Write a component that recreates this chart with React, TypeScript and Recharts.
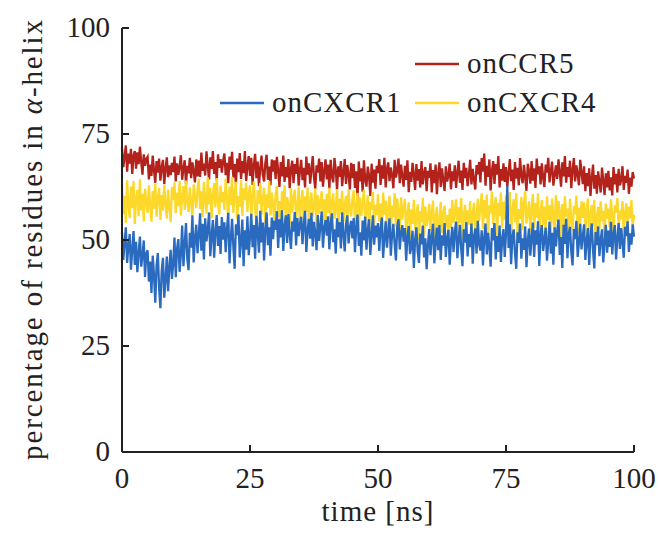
import { LineChart, Line, XAxis, YAxis, Legend } from 'recharts';

// sampling interval of the trajectories, ns
const STEP = 0.25;

// % residues in alpha-helix, one row = 5 ns
const onCCR5 = [
  71.8, 67.2, 69.5, 72.3, 66.1, 70.4, 68.0, 71.5, 65.6, 69.9, 71.0, 66.8, 70.7, 67.9, 72.0, 68.4, 65.4, 70.2, 67.5, 69.1,
  69.6, 64.3, 67.8, 65.1, 69.9, 66.4, 63.5, 68.6, 65.9, 69.2, 64.0, 67.1, 68.9, 63.2, 66.7, 69.5, 64.8, 67.6, 65.3, 68.2,
  66.0, 69.7, 63.8, 68.1, 65.4, 67.3, 70.0, 64.2, 66.9, 68.8, 63.1, 67.5, 65.7, 69.4, 64.6, 68.3, 66.2, 63.6, 69.0, 65.0,
  68.7, 64.9, 70.6, 66.3, 68.0, 65.2, 70.9, 67.4, 64.3, 69.5, 66.8, 71.0, 65.6, 68.4, 64.1, 70.2, 67.0, 69.1, 65.9, 68.6,
  70.4, 65.3, 68.2, 63.4, 69.7, 66.6, 70.8, 64.7, 67.9, 63.1, 69.2, 66.0, 70.5, 64.4, 68.6, 65.8, 71.0, 63.9, 67.4, 69.8,
  65.1, 69.4, 63.0, 67.7, 70.3, 64.6, 68.5, 62.7, 66.9, 69.9, 65.5, 63.8, 68.2, 70.1, 64.2, 67.3, 62.9, 69.0, 66.1, 68.8,
  64.4, 69.6, 66.3, 62.5, 68.4, 65.0, 69.9, 63.7, 67.2, 64.8, 69.1, 62.2, 66.8, 68.7, 63.4, 67.9, 65.6, 69.4, 62.8, 66.5,
  68.9, 64.1, 67.0, 62.4, 69.7, 65.4, 68.1, 63.3, 66.6, 69.8, 64.7, 62.1, 67.6, 65.9, 69.2, 63.8, 68.4, 62.6, 66.2, 69.0,
  64.3, 67.8, 62.0, 68.9, 65.1, 63.6, 69.3, 66.5, 61.8, 67.4, 64.9, 68.6, 62.7, 66.0, 69.1, 63.2, 67.7, 65.5, 61.9, 68.2,
  64.6, 67.9, 62.3, 66.2, 59.7, 68.5, 63.8, 66.9, 61.4, 68.8, 64.1, 62.6, 67.3, 65.2, 60.4, 68.0, 63.5, 66.6, 62.1, 67.5,
  65.8, 69.1, 63.0, 67.6, 64.5, 69.4, 62.4, 66.8, 68.3, 63.9, 67.1, 65.3, 62.2, 68.9, 64.7, 66.4, 69.2, 63.4, 67.8, 65.0,
  62.6, 67.5, 64.2, 68.8, 61.3, 66.1, 63.7, 68.2, 65.4, 61.8, 67.9, 64.0, 66.7, 62.4, 68.6, 63.1, 65.8, 67.2, 61.5, 66.3,
  64.7, 68.1, 61.2, 66.5, 63.4, 67.8, 60.8, 65.6, 68.3, 62.5, 66.9, 64.1, 61.6, 67.4, 63.8, 65.2, 68.0, 62.0, 66.2, 63.9,
  67.6, 62.3, 65.9, 68.7, 63.5, 66.4, 61.8, 68.2, 64.6, 67.0, 62.7, 65.3, 68.9, 63.1, 66.8, 64.2, 61.9, 67.7, 65.5, 68.4,
  63.6, 69.3, 66.1, 70.4, 62.8, 67.5, 64.9, 69.0, 61.7, 66.3, 68.6, 63.2, 67.9, 65.4, 69.8, 62.4, 66.7, 64.0, 68.1, 63.7,
  67.2, 62.5, 65.8, 69.1, 63.9, 66.6, 61.8, 68.4, 64.5, 67.0, 62.9, 69.3, 65.1, 63.4, 67.7, 64.8, 61.6, 68.0, 66.2, 63.3,
  68.6, 64.0, 66.9, 62.3, 69.2, 65.5, 67.4, 63.1, 68.1, 64.7, 62.5, 67.8, 65.9, 69.4, 63.6, 66.2, 68.5, 62.8, 65.3, 67.6,
  64.4, 69.0, 66.1, 62.6, 68.3, 65.0, 69.8, 63.5, 67.2, 64.9, 68.7, 62.2, 66.5, 69.3, 63.8, 67.6, 65.4, 62.9, 68.9, 66.0,
  63.2, 67.4, 61.5, 65.8, 62.7, 66.9, 60.4, 64.6, 67.8, 62.1, 65.3, 60.9, 66.2, 63.7, 61.2, 67.1, 64.0, 60.6, 65.7, 62.4,
  66.3, 61.7, 64.8, 60.5, 67.2, 63.1, 65.6, 61.2, 66.8, 62.9, 64.2, 67.4, 61.8, 65.1, 63.5, 66.6, 60.9, 64.7, 62.6, 66.0,
  64.5,
];

const onCXCR4 = [
  63.2, 56.1, 60.4, 54.0, 64.1, 58.3, 55.2, 62.6, 57.5, 63.9, 53.8, 59.7, 61.8, 55.6, 64.3, 57.0, 60.9, 54.4, 62.1, 58.8,
  56.4, 62.9, 58.1, 54.3, 61.6, 57.4, 63.3, 55.5, 59.9, 62.2, 54.7, 60.6, 56.9, 63.0, 58.6, 55.1, 61.9, 57.8, 54.2, 62.5,
  59.4, 63.6, 56.3, 61.2, 58.0, 63.9, 55.8, 60.5, 62.7, 57.1, 64.0, 59.0, 56.6, 62.4, 58.7, 55.6, 63.1, 60.2, 57.5, 62.0,
  64.4, 57.3, 61.5, 55.4, 63.7, 59.6, 56.2, 64.8, 58.4, 62.3, 55.1, 60.7, 63.4, 57.7, 64.6, 59.1, 56.0, 62.8, 58.9, 61.3,
  57.1, 64.5, 59.8, 55.0, 62.6, 58.2, 64.9, 56.4, 61.0, 63.7, 54.8, 60.3, 57.9, 64.1, 55.7, 62.2, 59.4, 63.5, 56.6, 60.8,
  62.9, 55.3, 60.1, 63.8, 57.2, 54.0, 61.7, 58.6, 63.4, 56.0, 59.5, 62.3, 53.7, 60.8, 57.6, 63.9, 55.8, 61.2, 58.1, 54.6,
  60.7, 62.8, 55.4, 59.2, 53.3, 61.5, 57.0, 62.9, 54.7, 60.1, 58.3, 53.6, 62.2, 56.5, 59.8, 61.9, 55.1, 57.7, 62.6, 54.2,
  58.9, 61.8, 54.1, 60.3, 56.7, 62.4, 52.9, 59.1, 61.2, 55.5, 57.8, 62.1, 53.4, 60.6, 56.2, 58.7, 61.5, 54.6, 59.6, 52.7,
  60.9, 56.4, 62.3, 53.5, 58.8, 61.0, 55.0, 57.6, 62.0, 52.3, 59.7, 56.1, 61.6, 54.3, 58.2, 60.4, 53.0, 61.9, 57.3, 55.6,
  59.4, 61.7, 53.8, 57.9, 61.1, 52.2, 60.0, 55.7, 58.5, 61.8, 54.4, 56.8, 60.6, 51.8, 59.0, 57.1, 61.3, 53.6, 58.3, 55.9,
  60.8, 54.3, 58.6, 51.2, 61.2, 56.0, 59.3, 52.7, 57.5, 60.4, 50.9, 58.1, 55.4, 61.0, 53.1, 59.8, 56.7, 52.0, 60.1, 54.8,
  57.6, 59.7, 51.5, 56.1, 58.9, 50.3, 57.2, 53.8, 59.5, 52.4, 55.7, 58.4, 49.9, 56.8, 54.2, 59.9, 51.0, 57.9, 53.3, 55.0,
  58.5, 52.1, 56.6, 59.3, 50.2, 55.4, 57.8, 49.4, 54.7, 59.0, 51.6, 56.3, 58.1, 53.0, 55.9, 49.8, 57.4, 52.8, 59.4, 54.1,
  56.5, 59.6, 51.3, 57.7, 54.0, 59.9, 50.0, 55.8, 58.3, 52.5, 57.0, 53.6, 59.2, 50.7, 56.2, 58.8, 52.0, 55.3, 59.7, 54.4,
  57.9, 61.0, 52.6, 59.4, 55.1, 60.7, 50.4, 58.2, 56.3, 61.4, 53.7, 57.5, 60.1, 51.2, 58.8, 55.6, 61.2, 52.9, 59.0, 54.8,
  60.5, 53.4, 58.0, 61.3, 51.1, 56.9, 59.6, 54.2, 61.0, 50.5, 57.3, 55.0, 60.2, 52.3, 58.6, 61.5, 53.9, 56.4, 59.1, 51.8,
  57.2, 60.8, 52.8, 58.7, 55.3, 61.0, 49.9, 56.6, 59.4, 53.5, 57.9, 51.4, 60.3, 54.7, 58.2, 50.6, 59.8, 55.9, 52.2, 60.6,
  54.3, 59.2, 56.8, 50.1, 58.5, 53.0, 60.3, 55.5, 57.4, 49.7, 59.7, 54.6, 52.3, 58.0, 56.1, 60.5, 51.5, 57.6, 53.8, 59.1,
  55.2, 58.9, 51.7, 57.3, 59.8, 50.4, 56.0, 58.3, 53.2, 59.5, 49.8, 55.7, 57.8, 52.6, 59.1, 54.4, 56.9, 50.9, 58.6, 55.0,
  57.4, 53.1, 59.6, 55.8, 51.2, 58.2, 56.5, 59.9, 52.7, 57.0, 54.9, 59.2, 50.8, 56.3, 58.7, 53.5, 57.8, 55.1, 59.4, 52.9,
  56.0,
];

const onCXCR1 = [
  51.8, 45.3, 49.2, 53.0, 44.6, 48.5, 51.4, 43.0, 47.8, 52.1, 44.1, 49.6, 42.4, 47.0, 50.8, 43.7, 46.2, 49.9, 41.3, 46.8,
  47.6, 40.2, 44.9, 37.5, 46.3, 41.8, 35.2, 44.0, 46.9, 38.6, 33.9, 42.7, 45.8, 36.4, 40.5, 46.1, 37.9, 43.6, 47.7, 40.8,
  44.3, 50.6, 41.2, 47.9, 50.2, 42.5, 46.6, 53.4, 43.8, 49.1, 54.0, 45.6, 42.9, 51.7, 48.2, 55.8, 44.7, 50.5, 53.6, 46.9,
  51.2, 56.3, 47.5, 53.8, 45.4, 55.1, 49.7, 52.4, 56.5, 46.2, 50.9, 54.7, 45.8, 52.0, 55.9, 48.6, 53.3, 46.7, 55.4, 50.1,
  54.2, 47.1, 52.6, 56.4, 44.5, 50.3, 55.0, 48.4, 43.2, 53.7, 51.1, 56.0, 45.9, 49.6, 54.8, 43.8, 52.3, 47.7, 55.6, 46.4,
  50.8, 56.2, 48.3, 53.5, 45.6, 55.7, 51.9, 47.0, 56.9, 49.4, 54.1, 45.2, 52.7, 56.5, 48.8, 53.0, 46.3, 55.3, 50.2, 54.6,
  52.4, 56.8, 48.1, 54.9, 50.6, 57.0, 47.4, 53.2, 55.8, 49.3, 56.1, 51.5, 47.9, 54.4, 52.0, 56.6, 48.7, 55.2, 50.9, 53.8,
  55.5, 49.0, 53.6, 56.9, 47.2, 52.1, 55.0, 50.3, 56.4, 48.5, 54.3, 51.7, 47.6, 55.9, 49.8, 53.3, 56.7, 48.2, 52.8, 54.7,
  51.0, 55.6, 47.8, 53.9, 56.3, 49.5, 52.5, 46.8, 55.1, 50.7, 54.2, 48.0, 56.5, 51.4, 47.3, 53.7, 55.8, 49.2, 52.9, 54.5,
  50.4, 55.2, 47.1, 53.1, 56.0, 48.6, 51.8, 46.3, 54.6, 49.9, 55.5, 47.7, 52.3, 54.9, 46.5, 51.2, 55.8, 48.9, 53.4, 50.6,
  54.0, 47.4, 52.7, 55.3, 45.8, 50.5, 54.4, 48.2, 52.0, 55.1, 46.3, 51.3, 53.8, 49.0, 45.2, 52.9, 54.9, 47.8, 51.6, 53.5,
  49.6, 52.8, 45.1, 50.9, 53.3, 46.7, 48.4, 52.2, 43.4, 50.1, 53.0, 47.3, 44.6, 51.5, 49.0, 53.4, 45.9, 50.4, 43.1, 48.8,
  52.6, 46.4, 50.7, 53.8, 44.5, 49.2, 52.9, 47.6, 53.5, 45.3, 51.1, 48.7, 54.0, 46.0, 50.3, 52.4, 44.2, 49.8, 53.1, 47.1,
  51.9, 54.3, 45.7, 50.0, 53.6, 47.9, 43.8, 52.5, 49.4, 54.2, 46.1, 51.4, 48.3, 53.9, 44.4, 50.8, 52.7, 46.8, 54.5, 49.0,
  47.5, 52.3, 44.0, 50.6, 53.9, 46.6, 51.7, 48.5, 43.7, 52.8, 49.9, 54.0, 45.4, 51.0, 47.2, 53.4, 44.8, 50.2, 52.6, 46.0,
  51.4, 62.8, 48.1, 53.7, 44.3, 50.9, 52.5, 46.9, 43.2, 51.8, 49.3, 53.9, 45.6, 50.4, 47.7, 53.2, 43.6, 49.8, 52.7, 46.3,
  50.5, 54.1, 46.0, 52.3, 48.9, 54.4, 43.9, 51.2, 53.5, 47.4, 50.0, 52.9, 45.1, 49.6, 54.3, 46.8, 51.7, 44.2, 53.0, 48.5,
  52.1, 54.8, 46.5, 50.7, 43.4, 53.6, 49.1, 55.0, 45.7, 51.5, 53.1, 47.2, 44.0, 52.6, 50.2, 54.5, 46.0, 49.5, 53.8, 47.8,
  51.0, 53.7, 45.3, 49.9, 52.8, 44.1, 50.6, 53.9, 47.5, 43.3, 51.9, 48.8, 53.2, 46.2, 50.1, 52.5, 44.7, 49.4, 53.6, 47.0,
  52.2, 48.4, 54.3, 46.6, 51.3, 53.5, 45.4, 50.5, 54.0, 47.9, 52.8, 49.6, 45.8, 53.1, 50.9, 54.4, 47.2, 51.6, 48.9, 53.7,
  50.8,
];

const xTicks = [0, 25, 50, 75, 100];
const yTicks = [0, 25, 50, 75, 100];

const FONT = '"Liberation Serif", "Times New Roman", serif';
const AXIS = '#222';
const RED = '#b3231c';
const YELLOW = '#fcd82a';
const BLUE = '#2a6bc0';

const data = onCCR5.map((v, i) => ({
  t: i * STEP,
  ccr5: v,
  cxcr4: onCXCR4[i],
  cxcr1: onCXCR1[i],
}));

const textStyle = { fontFamily: FONT, fontSize: 29, fill: '#222' };

function XTick({ x, y, payload }: any) {
  return (
    <g>
      {payload.value !== 0 && (
        <line x1={x} x2={x} y1={y} y2={y - 7} stroke={AXIS} strokeWidth={2} />
      )}
      <text x={x} y={y + 36} textAnchor="middle" style={textStyle}>
        {payload.value}
      </text>
    </g>
  );
}

function YTick({ x, y, payload }: any) {
  return (
    <g>
      {payload.value !== 0 && (
        <line x1={x} x2={x + 7} y1={y} y2={y} stroke={AXIS} strokeWidth={2} />
      )}
      <text x={x - 12} y={y + 9} textAnchor="end" style={textStyle}>
        {payload.value}
      </text>
    </g>
  );
}

function LegendBox() {
  const items = [
    { name: 'onCCR5', color: RED, x: 415, y: 64 },
    { name: 'onCXCR1', color: BLUE, x: 220, y: 103 },
    { name: 'onCXCR4', color: YELLOW, x: 415, y: 103 },
  ];
  return (
    <svg width={659} height={130}>
      {items.map((it) => (
        <g key={it.name}>
          <line x1={it.x} x2={it.x + 44} y1={it.y} y2={it.y} stroke={it.color} strokeWidth={2.5} />
          <text x={it.x + 52} y={it.y + 9} style={{ ...textStyle, letterSpacing: 1 }}>
            {it.name}
          </text>
        </g>
      ))}
    </svg>
  );
}

export default function App() {
  return (
    <div style={{ position: 'absolute', left: 0, top: 0, width: 659, height: 533, background: '#fff' }}>
      <LineChart
        width={659}
        height={533}
        data={data}
        margin={{ top: 28, right: 25, bottom: 41, left: 62 }}
      >
        <XAxis
          dataKey="t"
          type="number"
          domain={[0, 100]}
          ticks={xTicks}
          height={40}
          tickSize={0}
          tickMargin={0}
          tickLine={false}
          axisLine={{ stroke: AXIS, strokeWidth: 2 }}
          tick={<XTick />}
          interval={0}
        />
        <YAxis
          type="number"
          domain={[0, 100]}
          ticks={yTicks}
          width={60}
          tickSize={0}
          tickMargin={0}
          tickLine={false}
          axisLine={{ stroke: AXIS, strokeWidth: 2 }}
          tick={<YTick />}
          interval={0}
        />
        <Legend
          layout="horizontal"
          verticalAlign="middle"
          content={() => <LegendBox />}
          wrapperStyle={{ position: 'absolute', left: 0, top: 0, width: 659, height: 130 }}
        />
        <Line dataKey="ccr5" name="onCCR5" stroke={RED} strokeWidth={2.3} dot={false} isAnimationActive={false} />
        <Line dataKey="cxcr4" name="onCXCR4" stroke={YELLOW} strokeWidth={2.3} dot={false} isAnimationActive={false} />
        <Line dataKey="cxcr1" name="onCXCR1" stroke={BLUE} strokeWidth={2.3} dot={false} isAnimationActive={false} />
      </LineChart>
      <svg width={659} height={533} style={{ position: 'absolute', left: 0, top: 0, pointerEvents: 'none' }}>
        <text x={378} y={521} textAnchor="middle" style={{ ...textStyle, letterSpacing: 1 }}>
          time [ns]
        </text>
        <text
          x={0}
          y={0}
          transform="translate(42 239) rotate(-90)"
          textAnchor="middle"
          style={{ ...textStyle, letterSpacing: 1.9 }}
        >
          percentage of residues in <tspan fontStyle="italic">α</tspan>-helix
        </text>
      </svg>
    </div>
  );
}
